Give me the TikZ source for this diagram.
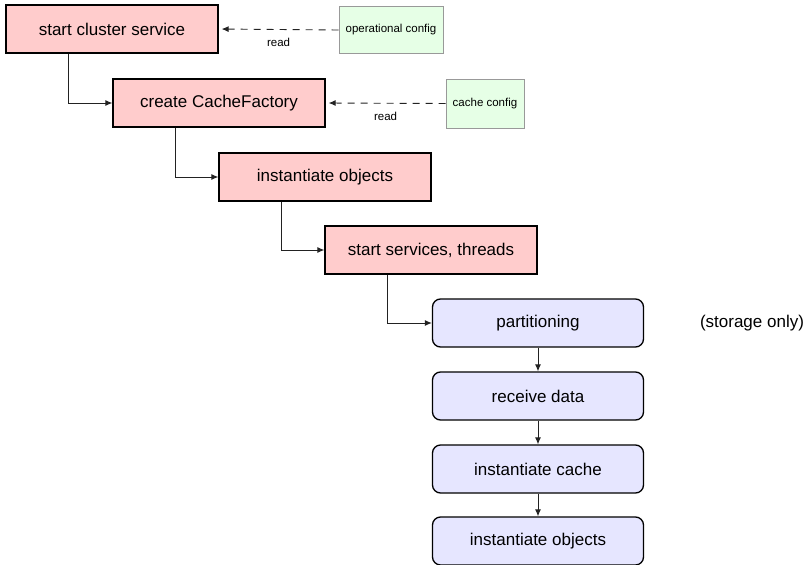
\documentclass[tikz,border=0pt]{standalone}
\usepackage{fontspec}
\setmainfont{Liberation Sans}
\usetikzlibrary{arrows.meta}
\definecolor{redfill}{HTML}{FFCCCC}
\definecolor{greenfill}{HTML}{E6FFE6}
\definecolor{bluefill}{HTML}{E6E6FF}
\definecolor{linegray}{HTML}{222222}
\definecolor{bordergray}{HTML}{999999}
\begin{document}
\begin{tikzpicture}[x=1pt,y=-1pt,
  redbox/.style={draw=black, line width=1.3pt, fill=redfill, minimum width=212pt, minimum height=48pt, inner sep=0pt, font=\fontsize{17}{20}\selectfont},
  bluebox/.style={draw=black, line width=1.3pt, fill=bluefill, rounded corners=8pt, minimum width=211pt, minimum height=48pt, inner sep=0pt, font=\fontsize{17}{20}\selectfont},
  greenbox/.style={draw=bordergray, line width=0.8pt, fill=greenfill, minimum height=48pt, inner sep=0pt, font=\fontsize{11.5}{14}\selectfont},
  flow/.style={draw=linegray, line width=0.9pt, -{Latex[length=7pt,width=6pt]}},
  readarrow/.style={draw=linegray, line width=0.9pt, dash pattern=on 7pt off 6pt, -{Latex[length=7pt,width=6pt]}, shorten >=3pt},
  small/.style={font=\fontsize{11.5}{14}\selectfont},
  plain/.style={font=\fontsize{17}{20}\selectfont}
]
\useasboundingbox (0,0) rectangle (806,565);

\node[redbox] (s1) at (112,29) {start cluster service};
\node[redbox] (s2) at (219,103) {create CacheFactory};
\node[redbox] (s3) at (325,177) {instantiate objects};
\node[redbox] (s4) at (431,250) {start services, threads};

\node[bluebox] (b1) at (538,323) {partitioning};
\node[bluebox] (b2) at (538,396) {receive data};
\node[bluebox] (b3) at (538,469) {instantiate cache};
\node[bluebox] (b4) at (538,541) {instantiate objects};

\node[greenbox, minimum width=104pt, minimum height=47pt] (g1) at (391,30) {operational config};
\node[greenbox, minimum width=78pt, minimum height=49pt] (g2) at (485,103.5) {cache config};

\node[plain] (note) at (752,323) {(storage only)};

\draw[readarrow] (g1.west) -- node[small, midway, yshift=-13pt] (r1) {read} (s1.east);
\draw[readarrow] (g2.west) -- node[small, midway, yshift=-13pt] (r2) {read} (s2.east);

\draw[flow] ([xshift=63pt]s1.south west) |- (s2.west);
\draw[flow] ([xshift=63pt]s2.south west) |- (s3.west);
\draw[flow] ([xshift=63pt]s3.south west) |- (s4.west);
\draw[flow] ([xshift=63pt]s4.south west) |- (b1.west);

\draw[flow] (b1.south) -- (b2.north);
\draw[flow] (b2.south) -- (b3.north);
\draw[flow] (b3.south) -- (b4.north);
\end{tikzpicture}
\end{document}
